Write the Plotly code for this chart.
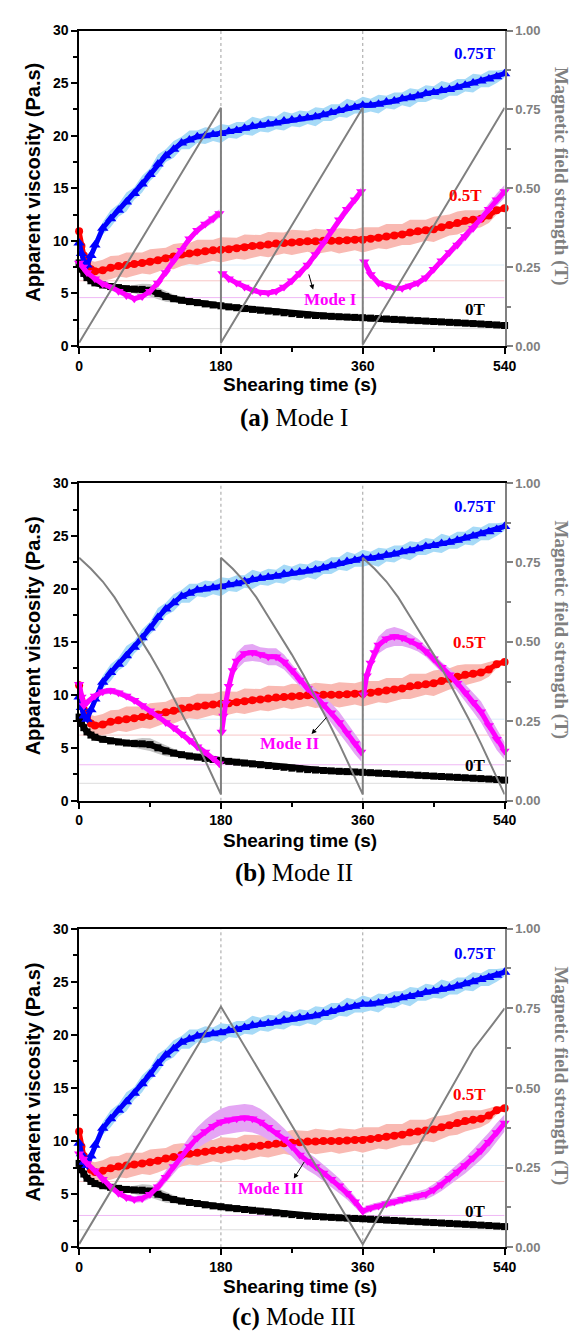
import plotly.graph_objects as go

# ---------------- data ----------------
t_base = [0, 3, 6, 10, 15, 20, 30, 40, 50, 60, 70, 80, 90, 100, 110, 120, 130, 140, 150, 160, 170, 180,
          190, 200, 210, 220, 230, 240, 250, 260, 270, 280, 290, 300, 310, 320, 330, 340, 350, 360,
          370, 380, 390, 400, 410, 420, 430, 440, 450, 460, 470, 480, 490, 500, 510, 520, 530, 540]

visc_0T = [7.9, 7.3, 6.9, 6.5, 6.2, 6.0,
           5.8, 5.65, 5.55, 5.45, 5.4, 5.38, 5.3, 5.0, 4.7, 4.5, 4.35, 4.22, 4.12, 4.0, 3.9, 3.82,
           3.72, 3.64, 3.56, 3.48, 3.4, 3.32, 3.24, 3.16, 3.08, 3.0, 2.94, 2.9, 2.86, 2.82, 2.78, 2.75, 2.72, 2.69,
           2.65, 2.61, 2.57, 2.53, 2.49, 2.45, 2.41, 2.37, 2.33, 2.29, 2.25, 2.21, 2.17, 2.13, 2.09, 2.05, 2.0, 1.95]
err_0T = [0.1, 0.1, 0.1, 0.1, 0.1, 0.1,
          0.1, 0.1, 0.15, 0.25, 0.4, 0.55, 0.6, 0.55, 0.5, 0.4, 0.3, 0.2, 0.15, 0.1, 0.1, 0.1,
          0.08, 0.08, 0.08, 0.08, 0.08, 0.08, 0.08, 0.08, 0.08, 0.08, 0.08, 0.08, 0.08, 0.08, 0.08, 0.08, 0.08, 0.08,
          0.08, 0.08, 0.08, 0.08, 0.08, 0.08, 0.08, 0.08, 0.08, 0.08, 0.08, 0.08, 0.08, 0.08, 0.08, 0.08, 0.08, 0.08]

visc_05T = [10.9, 9.5, 8.6, 7.9, 7.3, 7.1,
            7.2, 7.45, 7.6, 7.7, 7.8, 7.9, 8.0, 8.15, 8.35, 8.5, 8.7, 8.8, 8.9, 9.0, 9.1, 9.15,
            9.2, 9.3, 9.4, 9.5, 9.55, 9.65, 9.75, 9.8, 9.85, 9.9, 9.95, 9.95, 10.0, 10.0, 10.0, 10.05, 10.1, 10.1,
            10.2, 10.3, 10.4, 10.5, 10.6, 10.8, 10.9, 11.0, 11.1, 11.3, 11.5, 11.7, 11.9, 12.0, 12.1, 12.4, 12.9, 13.1]
err_05T = [0.2, 0.3, 0.5, 0.7, 0.8, 0.9,
           1.0, 1.1, 1.0, 1.2, 1.1, 1.0, 1.2, 1.1, 1.0, 1.2, 1.1, 1.0, 1.2, 1.1, 1.0, 1.2,
           1.1, 1.0, 1.2, 1.1, 1.0, 1.2, 1.1, 1.0, 1.2, 1.1, 1.0, 1.2, 1.1, 1.0, 1.2, 1.1, 1.0, 1.2,
           1.1, 1.0, 1.2, 1.1, 1.0, 1.2, 1.1, 1.0, 1.2, 1.1, 1.0, 1.1, 1.0, 0.9, 0.8, 0.7, 0.4, 0.2]

visc_075T = [9.8, 8.8, 8.0, 7.7, 8.6, 9.6,
             11.2, 12.1, 12.9, 13.7, 14.5, 15.4, 16.3, 17.3, 18.1, 18.7, 19.3, 19.6, 19.9, 20.0, 20.1, 20.2,
             20.4, 20.5, 20.7, 20.9, 21.0, 21.1, 21.2, 21.4, 21.5, 21.6, 21.7, 21.8, 22.0, 22.2, 22.4, 22.6, 22.7, 22.9,
             22.9, 23.0, 23.2, 23.3, 23.5, 23.6, 23.8, 24.0, 24.1, 24.3, 24.4, 24.6, 24.8, 25.0, 25.2, 25.4, 25.6, 25.9]
err_075T = [0.2, 0.3, 0.3, 0.3, 0.4, 0.5,
            0.6, 0.8, 0.6, 0.9, 0.6, 0.8, 0.6, 0.9, 0.6, 0.8, 0.6, 0.9, 0.6, 0.8, 0.6, 0.9,
            0.6, 0.8, 0.6, 0.9, 0.6, 0.8, 0.6, 0.9, 0.6, 0.8, 0.6, 0.9, 0.6, 0.8, 0.6, 0.9, 0.6, 0.8,
            0.6, 0.9, 0.6, 0.8, 0.6, 0.9, 0.6, 0.8, 0.6, 0.9, 0.6, 0.8, 0.6, 0.9, 0.6, 0.8, 0.6, 0.4]

# Mode I (magenta) – three segments
modeI_t1 = [0, 5, 10, 20, 30, 40, 50, 60, 70, 80, 90, 100, 110, 120, 130, 140, 150, 160, 170, 178]
modeI_v1 = [7.9, 7.5, 7.0, 6.4, 5.9, 5.6, 5.2, 4.8, 4.5, 4.7, 5.2, 6.0, 7.0, 8.1, 9.1, 10.2, 11.0, 11.6, 12.1, 12.6]
modeI_e1 = [0.2, 0.2, 0.25, 0.25, 0.25, 0.25, 0.25, 0.25, 0.25, 0.25, 0.25, 0.3, 0.3, 0.3, 0.3, 0.3, 0.35, 0.35, 0.4, 0.4]
modeI_t2 = [182, 190, 200, 210, 220, 230, 240, 250, 260, 270, 280, 290, 300, 310, 320, 330, 340, 350, 358]
modeI_v2 = [6.9, 6.4, 6.0, 5.6, 5.3, 5.1, 5.05, 5.2, 5.6, 6.2, 6.9, 7.7, 8.7, 9.8, 10.9, 12.0, 13.0, 13.9, 14.7]
modeI_e2 = [0.2, 0.2, 0.2, 0.2, 0.2, 0.2, 0.2, 0.2, 0.25, 0.25, 0.3, 0.3, 0.3, 0.35, 0.35, 0.4, 0.4, 0.4, 0.4]
modeI_t3 = [362, 370, 380, 390, 400, 410, 420, 430, 440, 450, 460, 470, 480, 490, 500, 510, 520, 530, 540]
modeI_v3 = [8.0, 6.8, 6.0, 5.7, 5.5, 5.5, 5.7, 6.0, 6.5, 7.3, 8.1, 8.9, 9.6, 10.4, 11.2, 12.1, 13.0, 13.9, 14.7]
modeI_e3 = [0.2, 0.2, 0.2, 0.2, 0.2, 0.2, 0.25, 0.25, 0.3, 0.3, 0.3, 0.35, 0.35, 0.4, 0.45, 0.5, 0.55, 0.6, 0.6]

# Mode II (magenta)
modeII_t1 = [0, 3, 6, 10, 20, 30, 40, 50, 60, 70, 80, 90, 100, 110, 120, 130, 140, 150, 160, 170, 178]
modeII_v1 = [11.0, 9.8, 9.0, 9.3, 9.9, 10.3, 10.4, 10.2, 9.9, 9.5, 9.0, 8.5, 8.0, 7.4, 6.9, 6.3, 5.7, 5.1, 4.6, 4.0, 3.5]
modeII_e1 = [0.5, 0.4, 0.3, 0.3, 0.3, 0.3, 0.3, 0.3, 0.3, 0.3, 0.3, 0.3, 0.3, 0.3, 0.3, 0.3, 0.3, 0.3, 0.3, 0.3, 0.3]
modeII_t2 = [181, 183, 186, 190, 195, 200, 210, 220, 230, 240, 250, 260, 270, 280, 290, 300, 310, 320, 330, 340, 350, 358]
modeII_v2 = [6.5, 8.0, 9.2, 10.8, 12.3, 13.2, 13.9, 14.0, 13.8, 13.6, 13.6, 13.1, 12.3, 11.4, 10.6, 9.9, 9.1, 8.3, 7.4, 6.4, 5.4, 4.6]
modeII_e2 = [0.3, 0.4, 0.5, 0.6, 0.7, 0.8, 0.8, 0.8, 0.7, 0.8, 0.8, 0.7, 0.6, 0.6, 0.6, 0.7, 0.8, 0.9, 1.0, 1.0, 1.0, 0.9]
modeII_t3 = [361, 365, 370, 375, 380, 390, 400, 410, 420, 430, 440, 450, 460, 470, 480, 490, 500, 510, 520, 530, 540]
modeII_v3 = [10.0, 11.8, 13.0, 14.0, 14.7, 15.3, 15.5, 15.4, 15.1, 14.7, 14.1, 13.4, 12.6, 11.9, 11.1, 10.2, 9.3, 8.4, 7.1, 5.8, 4.7]
modeII_e3 = [0.4, 0.5, 0.6, 0.7, 0.8, 0.9, 0.9, 0.8, 0.7, 0.6, 0.5, 0.5, 0.5, 0.6, 0.7, 0.8, 0.9, 1.0, 1.0, 1.0, 0.8]

# Mode III (magenta)
modeIII_t = [0, 5, 10, 20, 30, 40, 50, 60, 70, 80, 90, 100, 110, 120, 130, 140, 150, 160, 170, 180,
             190, 200, 210, 220, 230, 240, 250, 260, 270, 280, 290, 300, 310, 320, 330, 340, 350, 360,
             370, 380, 390, 400, 410, 420, 430, 440, 450, 460, 470, 480, 490, 500, 510, 520, 530, 540]
modeIII_v = [8.8, 8.3, 7.9, 7.2, 6.4, 5.7, 5.1, 4.7, 4.5, 4.6, 5.0, 5.7, 6.6, 7.6, 8.6, 9.5, 10.3, 10.9, 11.4, 11.8,
             12.0, 12.1, 12.2, 12.1, 11.8, 11.3, 10.8, 10.2, 9.5, 8.7, 8.1, 7.6, 7.0, 6.4, 5.8, 5.1, 4.3, 3.4,
             3.7, 3.9, 4.1, 4.3, 4.5, 4.7, 4.85, 5.0, 5.4, 5.9, 6.5, 7.1, 7.7, 8.4, 9.1, 9.9, 10.8, 11.7]
modeIII_e = [0.2, 0.2, 0.25, 0.3, 0.3, 0.3, 0.3, 0.3, 0.3, 0.35, 0.4, 0.5, 0.6, 0.7, 0.8, 0.9, 1.0, 1.1, 1.2, 1.25,
             1.3, 1.3, 1.3, 1.3, 1.25, 1.2, 1.1, 1.0, 0.95, 0.9, 0.85, 0.8, 0.8, 0.75, 0.7, 0.6, 0.5, 0.35,
             0.35, 0.35, 0.35, 0.35, 0.4, 0.4, 0.45, 0.5, 0.55, 0.6, 0.65, 0.7, 0.75, 0.8, 0.85, 0.9, 0.9, 0.8]

# Magnetic field strength (T)
field_I_t = [0, 180, 180, 360, 360, 540]
field_I = [0.01, 0.755, 0.01, 0.755, 0.005, 0.755]
field_II_cycle_t = [0, 15, 30, 45, 60, 75, 90, 105, 120, 135, 150, 165, 180]
field_II_cycle = [0.765, 0.73, 0.69, 0.64, 0.58, 0.52, 0.46, 0.395, 0.325, 0.255, 0.18, 0.10, 0.02]
field_III_t = [0, 180, 360, 500, 525, 540]
field_III = [0.01, 0.755, 0.01, 0.62, 0.70, 0.75]

# faint reference lines (Pa.s) per panel
ref_levels = [[7.7, 6.2, 4.6, 1.65], [7.7, 6.2, 3.4, 1.65], [7.7, 6.2, 3.0, 1.65]]
ref_colors = ["#d9ecf9", "#f8c6c6", "#efb8f5", "#dcdcdc"]

x_ticks = [0, 180, 360, 540]
y_ticks = [0, 5, 10, 15, 20, 25, 30]
y2_ticks = [0, 0.25, 0.5, 0.75, 1.0]
y2_labels = ["0.00", "0.25", "0.50", "0.75", "1.00"]
captions = ["<b>(a)</b> Mode I", "<b>(b)</b> Mode II", "<b>(c)</b> Mode III"]
mode_labels = ["Mode I", "Mode II", "Mode III"]

for arr, n in [(visc_0T, 58), (err_0T, 58), (visc_05T, 58), (err_05T, 58), (visc_075T, 58), (err_075T, 58),
               (modeIII_v, 56), (modeIII_e, 56)]:
    assert len(arr) == n, (len(arr), n)

# ---------------- figure ----------------
W, H = 583, 1332
fig = go.Figure()

GRAY = "#808080"
SANS = "Arial, Liberation Sans, sans-serif"
SERIF = "Times New Roman, Liberation Serif, serif"

x_dom = [69 / W, 506.5 / W]
panel_px = [(14.7, 334.0), (472.7, 794.3), (923.7, 1246.3)]
axes_ids = [("x", "y", "y2"), ("x2", "y3", "y4"), ("x3", "y5", "y6")]


def add_band(t, v, e, color, xa, ya):
    up = [a + b for a, b in zip(v, e)]
    lo = [a - b for a, b in zip(v, e)]
    fig.add_trace(go.Scatter(x=list(t) + list(t)[::-1], y=up + lo[::-1], fill="toself", fillcolor=color,
                             line=dict(width=0), mode="lines", hoverinfo="skip", showlegend=False,
                             xaxis=xa, yaxis=ya))


def add_series(t, v, color, symbol, size, width, xa, ya):
    fig.add_trace(go.Scatter(x=t, y=v, mode="lines+markers", line=dict(color=color, width=width),
                             marker=dict(symbol=symbol, size=size, color=color, line=dict(width=0)),
                             cliponaxis=False, showlegend=False, xaxis=xa, yaxis=ya))


mode_segments = [
    [(modeI_t1, modeI_v1, modeI_e1), (modeI_t2, modeI_v2, modeI_e2), (modeI_t3, modeI_v3, modeI_e3)],
    [(modeII_t1, modeII_v1, modeII_e1), (modeII_t2, modeII_v2, modeII_e2), (modeII_t3, modeII_v3, modeII_e3)],
    [(modeIII_t, modeIII_v, modeIII_e)],
]

field_II_t = []
field_II = []
for k in range(3):
    field_II_t += [tt + 180 * k for tt in field_II_cycle_t]
    field_II += field_II_cycle
fields = [(field_I_t, field_I), (field_II_t, field_II), (field_III_t, field_III)]

layout = dict(width=W, height=H, margin=dict(l=0, r=0, t=0, b=0), plot_bgcolor="white",
              paper_bgcolor="white", showlegend=False)
annotations = []
shapes = []

label_pos = [
    dict(l075=(27.8,), l05=(491, 14.3), l0=(3.5,), mode=(319, 4.45), head=(297, 5.36), tail=(291, 6.95)),
    dict(l075=(27.8,), l05=(495, 14.95), l0=(3.36,), mode=(267.5, 5.37), head=(295, 6.3), tail=(315.6, 8.0)),
    dict(l075=(27.7,), l05=(495, 14.4), l0=(3.4,), mode=(243.7, 5.54), head=(272.5, 6.47), tail=(286.9, 8.18)),
]
caption_y = [407, 867, 1317]
xtitle_y = [373, 835, 1286]

for i, (xa, ya, ya2) in enumerate(axes_ids):
    top, bot = panel_px[i]
    y_dom = [1 - bot / H, 1 - top / H]
    xkey = "xaxis" if xa == "x" else "xaxis" + xa[1:]
    ykey = "yaxis" if ya == "y" else "yaxis" + ya[1:]
    y2key = "yaxis" + ya2[1:]

    layout[xkey] = dict(domain=x_dom, anchor=ya, range=[0, 540], tickvals=x_ticks, ticks="outside",
                        ticklen=6, tickwidth=1.5, tickcolor="black", showline=True, linecolor="black",
                        linewidth=1.5, mirror=True, showgrid=False, zeroline=False,
                        tickfont=dict(family=SANS, size=14, color="black", weight="bold"),
                        minor=dict(tickvals=[90, 270, 450], ticks="outside", ticklen=4, tickwidth=1.5,
                                   tickcolor="black", showgrid=False))
    layout[ykey] = dict(domain=y_dom, anchor=xa, range=[0, 30], tickvals=y_ticks, ticks="outside",
                        ticklen=6, tickwidth=1.5, tickcolor="black", showline=True, linecolor="black",
                        linewidth=1.5, showgrid=False, zeroline=False,
                        tickfont=dict(family=SANS, size=14, color="black", weight="bold"),
                        minor=dict(dtick=2.5, ticks="outside", ticklen=4, tickwidth=1.5, tickcolor="black",
                                   showgrid=False))
    layout[y2key] = dict(domain=y_dom, anchor=xa, overlaying=ya, side="right", range=[0, 1],
                         tickvals=y2_ticks, ticktext=y2_labels, ticks="outside", ticklen=6, tickwidth=1.5,
                         tickcolor=GRAY, showline=True, linecolor=GRAY, linewidth=2, showgrid=False,
                         zeroline=False, tickfont=dict(family=SANS, size=13, color=GRAY, weight="bold"),
                         minor=dict(tickvals=[0.125, 0.375, 0.625, 0.875], ticks="outside", ticklen=4,
                                    tickwidth=1.5, tickcolor=GRAY, showgrid=False))

    # faint horizontal reference lines
    for lvl, col in zip(ref_levels[i], ref_colors):
        shapes.append(dict(type="line", xref=xa, yref=ya, x0=0, x1=540, y0=lvl, y1=lvl,
                           line=dict(color=col, width=1), layer="below"))
    # dotted vertical lines
    for xv in (180, 360):
        shapes.append(dict(type="line", xref=xa, yref=ya, x0=xv, x1=xv, y0=0, y1=30,
                           line=dict(color="#a0a0a0", width=1, dash="dot"), layer="below"))

    # bands
    add_band(t_base, visc_0T, err_0T, "#c4c4c4", xa, ya)
    add_band(t_base, visc_05T, err_05T, "#f9b9b2", xa, ya)
    add_band(t_base, visc_075T, err_075T, "#a6daf7", xa, ya)
    for (tt, vv, ee) in mode_segments[i]:
        add_band(tt, vv, ee, "#e4a6f4", xa, ya)

    # series
    add_series(t_base, visc_0T, "black", "square", 7, 6, xa, ya)
    add_series(t_base, visc_05T, "#ff0000", "circle", 8, 5, xa, ya)
    add_series(t_base, visc_075T, "#0000ff", "triangle-up", 10, 5, xa, ya)
    for (tt, vv, ee) in mode_segments[i]:
        add_series(tt, vv, "#ff00ff", "triangle-down", 9, 5, xa, ya)

    # magnetic field
    ft, fv = fields[i]
    fig.add_trace(go.Scatter(x=ft, y=fv, mode="lines", line=dict(color=GRAY, width=2),
                             showlegend=False, xaxis=xa, yaxis=ya2))

    lp = label_pos[i]
    annotations += [
        dict(x=503, y=lp["l075"][0], xref=xa, yref=ya, text="<b>0.75T</b>", showarrow=False,
             font=dict(family=SERIF, size=17, color="#0000ff")),
        dict(x=lp["l05"][0], y=lp["l05"][1], xref=xa, yref=ya, text="<b>0.5T</b>", showarrow=False,
             font=dict(family=SERIF, size=17, color="#ff0000")),
        dict(x=503, y=lp["l0"][0], xref=xa, yref=ya, text="<b>0T</b>", showarrow=False,
             font=dict(family=SERIF, size=17, color="black")),
        dict(x=lp["mode"][0], y=lp["mode"][1], xref=xa, yref=ya, text="<b>" + mode_labels[i] + "</b>",
             showarrow=False, font=dict(family=SERIF, size=17, color="#ff00ff")),
        dict(x=lp["head"][0], y=lp["head"][1], xref=xa, yref=ya, ax=lp["tail"][0], ay=lp["tail"][1],
             axref=xa, ayref=ya, text="", showarrow=True, arrowhead=2, arrowsize=1, arrowwidth=1,
             arrowcolor="black"),
        # axis titles
        dict(x=22 / W, y=1 - ((top + bot) / 2 - 6) / H, xref="paper", yref="paper",
             text="<b>Apparent viscosity (Pa.s)</b>", textangle=-90, showarrow=False,
             font=dict(family=SANS, size=20, color="black"), xanchor="center", yanchor="middle"),
        dict(x=564 / W, y=1 - ((top + bot) / 2 - 12) / H, xref="paper", yref="paper",
             text="<b>Magnetic field strength (T)</b>", textangle=90, showarrow=False,
             font=dict(family=SERIF, size=19, color=GRAY), xanchor="center", yanchor="middle"),
        dict(x=296 / W, y=1 - xtitle_y[i] / H, xref="paper", yref="paper",
             text="<b>Shearing time (s)</b>", showarrow=False,
             font=dict(family=SANS, size=19, color="black"), xanchor="center", yanchor="middle"),
        dict(x=290 / W, y=1 - caption_y[i] / H, xref="paper", yref="paper", text=captions[i],
             showarrow=False, font=dict(family=SERIF, size=25, color="black"),
             xanchor="center", yanchor="middle"),
    ]

layout["annotations"] = annotations
layout["shapes"] = shapes
fig.update_layout(**layout)
fig.write_html("out.html")
